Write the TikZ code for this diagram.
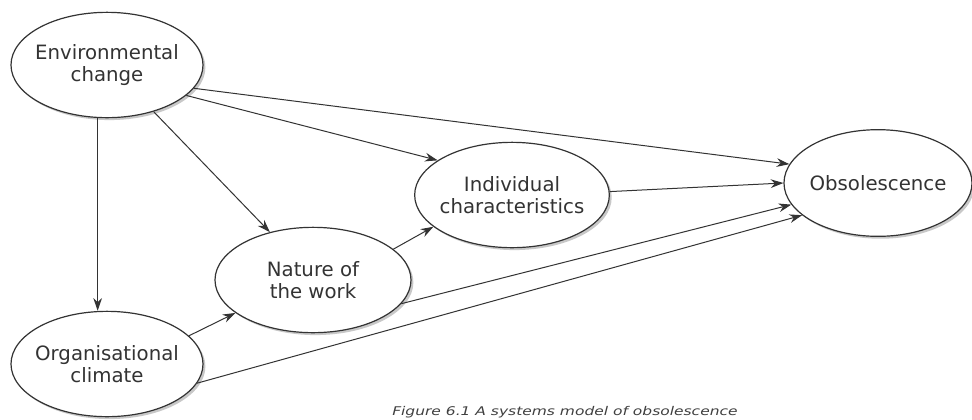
\documentclass[tikz,border=0pt]{standalone}
\usepackage{fontspec}
\setmainfont{DejaVu Sans}
\usetikzlibrary{shapes.geometric,arrows.meta,shadows}
\begin{document}
\begin{tikzpicture}[x=0.75pt,y=-0.75pt,
  bubble/.style={ellipse, draw=black!80, line width=0.9pt, fill=white,
    minimum width=144pt, minimum height=79pt, inner xsep=-4pt, inner ysep=0pt, align=center,
    font=\fontsize{14.8}{16}\selectfont, text=black!80,
    drop shadow={shadow xshift=1.8pt, shadow yshift=-1.8pt, opacity=0.3, fill=black!70}},
  link/.style={draw=black!80, line width=0.75pt, -{Stealth[length=9.5pt,width=6.5pt]}},
  caption/.style={font=\fontsize{9}{10}\selectfont\itshape, text=black!75, anchor=base west, inner sep=0pt}]
\useasboundingbox (0,0) rectangle (972,419);
\fill[white] (0,0) rectangle (972,419);
\node[bubble] (env) at (107,65) {Environmental\\change};
\node[bubble] (org) at (107,364) {Organisational\\climate};
\node[bubble, minimum width=147pt] (nat) at (313,280) {Nature of\\the work};
\node[bubble, minimum width=146pt] (ind) at (512,195) {Individual\\characteristics};
\node[bubble, minimum width=141pt, minimum height=80pt] (obs) at (878,183) {Obsolescence};
\draw[link] (env.-15) -- (obs.168);
\draw[link] (env.-21) -- (ind.155);
\draw[link] (env.-45) -- (nat.132);
\draw[link] (env.-100) -- (env.-100 |- org.north);
\draw[link] (ind.2) -- (obs.180);
\draw[link] (nat.21) -- (ind.202);
\draw[link] (nat.-15) -- (obs.194);
\draw[link] (org.19) -- (nat.203);
\draw[link] (org.-12) -- (obs.203);
\node[caption] (cap) at (392,415) {\resizebox{259pt}{\height}{Figure 6.1 A systems model of obsolescence}};
\end{tikzpicture}
\end{document}
